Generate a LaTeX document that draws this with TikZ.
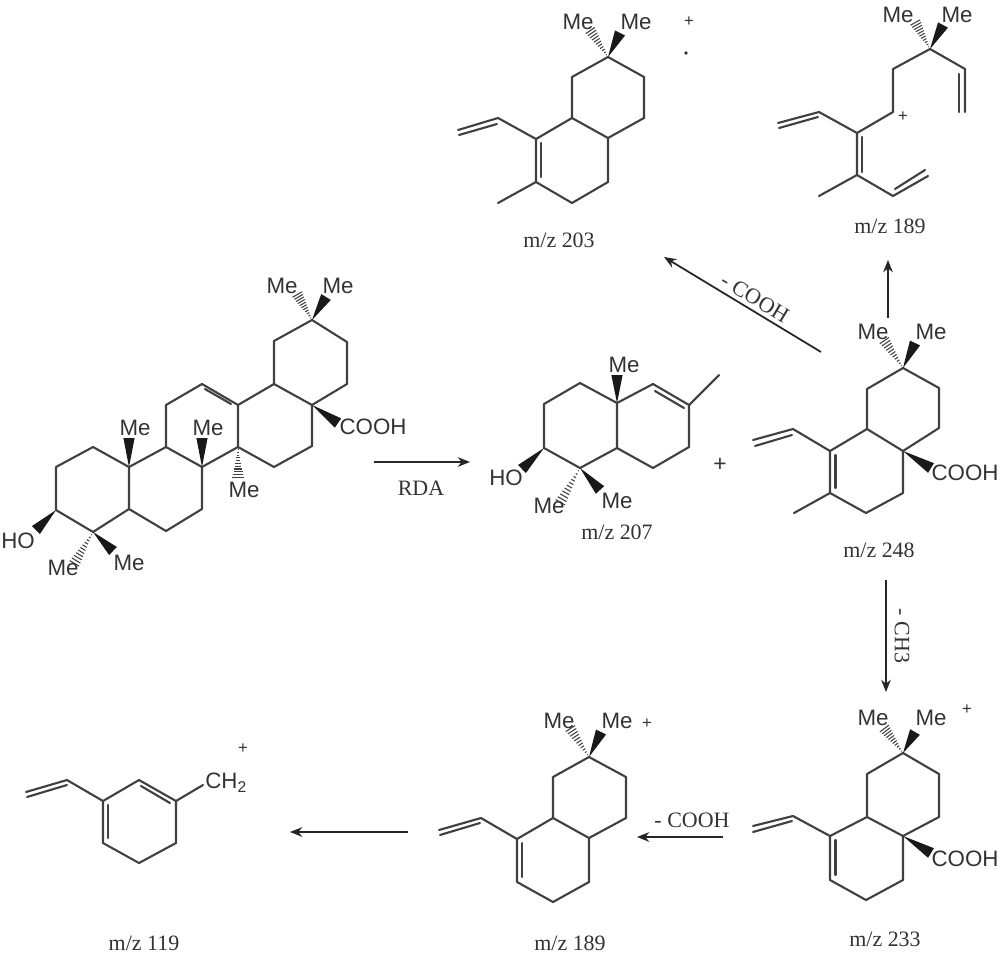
\documentclass[tikz,border=0pt]{standalone}
\usepackage{fontspec}
\setmainfont{Liberation Serif}
\newfontfamily\atomfont{Liberation Sans}
\usetikzlibrary{calc,arrows.meta}
\definecolor{ink}{HTML}{404040}
\definecolor{txt}{HTML}{333333}
\tikzset{
  bond/.style={draw=ink,line width=1.2pt,line join=round,line cap=round},
  solidw/.style={fill=black!90,draw=none},
  hashw/.style={draw=ink,line width=0.6pt},
  atom/.style={font=\atomfont\fontsize{12.7}{14}\selectfont,text=txt,inner sep=0pt},
  lab/.style={font=\fontsize{12.5}{14}\selectfont,text=txt,inner sep=0pt},
  chg/.style={font=\atomfont\fontsize{9.5}{11}\selectfont,text=txt,inner sep=0pt},
  rxn/.style={draw=black!85,line width=1.0pt,-{Stealth[length=7pt,width=5.5pt]}}
}
\newcommand{\solidwedge}[2]{%
  \fill[solidw] (#1) -- ($(#2)!3.2pt!90:(#1)$) -- ($(#2)!3.2pt!-90:(#1)$) -- cycle;}
\newcommand{\hashwedge}[2]{%
  \coordinate (hp) at ($(#2)!3.2pt!90:(#1)$);
  \coordinate (hq) at ($(#2)!3.2pt!-90:(#1)$);
  \foreach \t in {0.08,0.17,...,1.0}
    \draw[hashw] ($(#1)!\t!(hp)$) -- ($(#1)!\t!(hq)$);}
\begin{document}
\begin{tikzpicture}[x=0.02cm,y=-0.02cm]
\useasboundingbox (0,0) rectangle (1000,957);

% ---------- parent triterpenoid ----------
\draw[bond] (312,320) -- (347,342) -- (347,384) -- (312,405) -- (274,384) -- (274,341) -- cycle;
\draw[bond] (274,384) -- (238,405) -- (238,447) -- (274,467) -- (312,446) -- (312,405);
\draw[bond] (238,405) -- (202,384) -- (166,405) -- (166,447) -- (202,467) -- (238,447);
\draw[bond] (231,404) -- (205,389);
\draw[bond] (202,467) -- (202,509) -- (166,531) -- (129,509) -- (129,467) -- (166,447);
\draw[bond] (129,467) -- (93,447) -- (56,467) -- (56,510) -- (93,532) -- (129,509);
\hashwedge{312,320}{297,294}
\solidwedge{312,320}{326,297}
\solidwedge{312,405}{338,423}
\solidwedge{129,467}{129,438}
\solidwedge{202,467}{202,438}
\hashwedge{238,447}{238,478}
\solidwedge{56,510}{36,530}
\hashwedge{93,532}{74,564}
\solidwedge{93,532}{113,551}
\node[atom] (pMe1) at (282,286) {Me};
\node[atom] (pMe2) at (338,286) {Me};
\node[atom] (pCOOH) at (373,427) {COOH};
\node[atom] (pMe3) at (135,428) {Me};
\node[atom] (pMe4) at (208,428) {Me};
\node[atom] (pMe5) at (244,490) {Me};
\node[atom] (pHO) at (18,541) {HO};
\node[atom] (pMe6) at (63,568) {Me};
\node[atom] (pMe7) at (129,563) {Me};

% ---------- m/z 207 ----------
\draw[bond] (617,403) -- (580,383) -- (544,404) -- (544,448) -- (580,468) -- (617,448) -- cycle;
\draw[bond] (617,448) -- (653,468) -- (689,447) -- (689,405) -- (653,384) -- (617,403);
\draw[bond] (655,391) -- (684,408);
\draw[bond] (689,405) -- (719,375);
\solidwedge{617,403}{617,375}
\solidwedge{544,448}{522,469}
\hashwedge{580,468}{560,503}
\solidwedge{580,468}{600,490}
\node[atom] (aMe1) at (624,365) {Me};
\node[atom] (aHO) at (506,478) {HO};
\node[atom] (aMe2) at (549,506) {Me};
\node[atom] (aMe3) at (617,501) {Me};
\node[atom,font=\atomfont\fontsize{13}{14}\selectfont] (plus) at (720,465) {+};
\node[lab] (l207) at (617,532) {m/z 207};

% ---------- m/z 248 ----------
\draw[bond] (903,368) -- (939,388) -- (939,428) -- (903,451) -- (867,429) -- (867,389) -- cycle;
\draw[bond] (867,429) -- (830,451) -- (830,493) -- (866,513) -- (903,493) -- (903,451);
\draw[bond] (835.5,455) -- (835.5,488);
\draw[bond] (830,451) -- (793,429) -- (753,440);
\draw[bond] (792,435) -- (755,446);
\draw[bond] (830,493) -- (794,513);
\hashwedge{903,368}{884,340}
\solidwedge{903,368}{915,343}
\solidwedge{903,451}{931,468}
\node[atom] (bMe1) at (873,332) {Me};
\node[atom] (bMe2) at (931,332) {Me};
\node[atom] (bCOOH) at (965,473) {COOH};
\node[lab] (l248) at (879,550) {m/z 248};

% ---------- m/z 203 ----------
\draw[bond] (608,57) -- (644,77) -- (644,118) -- (608,138) -- (572,118) -- (572,77) -- cycle;
\draw[bond] (572,118) -- (536,139) -- (536,182) -- (572,203) -- (608,182) -- (608,138);
\draw[bond] (541,143) -- (541,177);
\draw[bond] (536,139) -- (498,118) -- (458,130);
\draw[bond] (497,124) -- (459,135);
\draw[bond] (536,182) -- (498,203);
\hashwedge{608,57}{590,30}
\solidwedge{608,57}{620,33}
\node[atom] (cMe1) at (578,22) {Me};
\node[atom] (cMe2) at (636,22) {Me};
\node[chg] (cPlus) at (689,22) {+};
\fill[txt] (686,53) circle (1.1pt);
\node[lab] (l203) at (559,240) {m/z 203};

% ---------- m/z 189 (top) ----------
\draw[bond] (965,112) -- (965,69) -- (930,49) -- (893,69) -- (893,112) -- (857,133) -- (857,175) -- (893,196) -- (928,176);
\draw[bond] (959,74) -- (959,112);
\draw[bond] (857,133) -- (819,112) -- (778,123);
\draw[bond] (818,117) -- (779,128);
\draw[bond] (862,137) -- (862,172);
\draw[bond] (857,175) -- (819,196);
\draw[bond] (895,189) -- (925,170);
\hashwedge{930,49}{915,22}
\solidwedge{930,49}{943,25}
\node[atom] (dMe1) at (898,15) {Me};
\node[atom] (dMe2) at (957,15) {Me};
\node[chg] (dPlus) at (903,117) {+};
\node[lab] (l189a) at (890,226) {m/z 189};

% ---------- m/z 233 ----------
\draw[bond] (903,753) -- (939,774) -- (939,817) -- (903,836) -- (867,817) -- (867,774) -- cycle;
\draw[bond] (867,817) -- (830,836) -- (830,880) -- (866,900) -- (903,880) -- (903,836);
\draw[bond] (835.5,840) -- (835.5,875);
\draw[bond] (830,836) -- (793,816) -- (753,826);
\draw[bond] (792,821) -- (753,832);
\hashwedge{903,753}{884,728}
\solidwedge{903,753}{915,732}
\solidwedge{903,836}{931,853}
\node[atom] (eMe1) at (873,718) {Me};
\node[atom] (eMe2) at (931,718) {Me};
\node[chg] (ePlus) at (967,710) {+};
\node[atom] (eCOOH) at (965,859) {COOH};
\node[lab] (l233) at (885,939) {m/z 233};

% ---------- m/z 189 (bottom) ----------
\draw[bond] (589,757) -- (626,777) -- (626,818) -- (589,838) -- (553,818) -- (553,777) -- cycle;
\draw[bond] (553,818) -- (517,839) -- (517,882) -- (553,902) -- (589,882) -- (589,838);
\draw[bond] (522,843) -- (522,877);
\draw[bond] (517,839) -- (481,818) -- (439,830);
\draw[bond] (480,823) -- (440,835);
\hashwedge{589,757}{570,728}
\solidwedge{589,757}{601,732}
\node[atom] (fMe1) at (559,721) {Me};
\node[atom] (fMe2) at (617,721) {Me};
\node[chg] (fPlus) at (647,724) {+};
\node[lab] (l189b) at (570,943) {m/z 189};

% ---------- m/z 119 ----------
\draw[bond] (139,780) -- (176,801) -- (176,843) -- (139,863) -- (103,843) -- (103,801) -- cycle;
\draw[bond] (108,805) -- (108,838);
\draw[bond] (141,786) -- (170,803);
\draw[bond] (103,801) -- (67,780) -- (26,792);
\draw[bond] (67,785) -- (27,797);
\draw[bond] (176,801) -- (203,785);
\node[atom,anchor=west] (gCH) at (205,783) {CH\textsubscript{2}};
\node[chg] (gPlus) at (243,749) {+};
\node[lab] (l119) at (144,943) {m/z 119};

% ---------- reaction arrows ----------
\coordinate (r1s) at (374,462);  \coordinate (r1e) at (470,462);
\coordinate (r2s) at (821,352);  \coordinate (r2e) at (664,257);
\coordinate (r3s) at (888,318);  \coordinate (r3e) at (888,260);
\coordinate (r4s) at (886,580);  \coordinate (r4e) at (886,692);
\coordinate (r5s) at (723,837);  \coordinate (r5e) at (637,837);
\coordinate (r6s) at (408,832);  \coordinate (r6e) at (290,832);
\draw[rxn] (r1s) -- (r1e);
\draw[rxn] (r2s) -- (r2e);
\draw[rxn] (r3s) -- (r3e);
\draw[rxn] (r4s) -- (r4e);
\draw[rxn] (r5s) -- (r5e);
\draw[rxn] (r6s) -- (r6e);
\node[lab] (tRDA) at (421,488) {RDA};
\node[lab,rotate=-31] (tCOOHa) at (755,298) {- COOH};
\node[lab,rotate=-90] (tCH3) at (902,636) {- CH3};
\node[lab] (tCOOHb) at (692,820) {- COOH};
\end{tikzpicture}
\end{document}
